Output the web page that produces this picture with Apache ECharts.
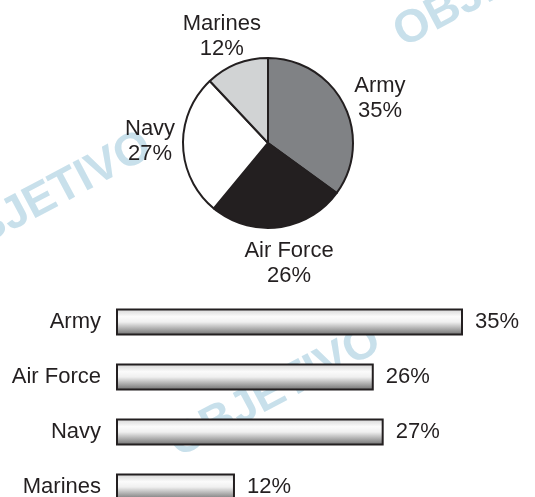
<!DOCTYPE html>
<html>
<head>
<meta charset="utf-8">
<script src="https://cdn.jsdelivr.net/npm/echarts@6/dist/echarts.min.js"></script>
<style>
html,body{margin:0;padding:0;background:#fff;}
#chart{width:535px;height:497px;}
</style>
</head>
<body>
<div id="chart"></div>
<script>
// Data
const categories = ['Army', 'Air Force', 'Navy', 'Marines'];
const shares = [35, 26, 27, 12];
const pieColors = ['#808285', '#231f20', '#ffffff', '#d1d3d4'];
const watermarkText = 'OBJETIVO';

const FONT = '"Liberation Sans", Arial, Helvetica, sans-serif';
const TEXT_COLOR = '#231f20';
const WM_COLOR = '#c8e0eb';
// small label nudges (style only) to match the original typesetting
const labelNudge = [[5, 10], [6, 1], [2, -5], [-2, 5]];

const chart = echarts.init(document.getElementById('chart'), null, {renderer: 'canvas'});

const pieData = categories.map((c, i) => ({
  name: c,
  value: shares[i],
  itemStyle: {color: pieColors[i]}
}));

const wm = (x, y) => ({
  type: 'text', x: x, y: y, rotation: 28 * Math.PI / 180, z: -10,
  style: {text: watermarkText, font: 'bold 46px ' + FONT, fill: WM_COLOR, align: 'center', verticalAlign: 'middle'}
});

const option = {
  backgroundColor: '#ffffff',
  animation: false,
  graphic: [wm(46, 198), wm(500, -18), wm(275, 392)],
  grid: {left: 116, right: 72, top: 294.5, height: 220, containLabel: false, outerBoundsMode: 'none'},
  xAxis: {
    type: 'value', min: 0, max: 35, show: false
  },
  yAxis: {
    type: 'category', data: categories, inverse: true,
    axisLine: {show: false}, axisTick: {show: false}, splitLine: {show: false},
    axisLabel: {color: TEXT_COLOR, fontFamily: FONT, fontSize: 22, margin: 15}
  },
  series: [
    {
      type: 'pie',
      center: [268, 143],
      radius: 85,
      startAngle: 90,
      clockwise: true,
      data: pieData,
      itemStyle: {borderColor: '#231f20', borderWidth: 2},
      emphasis: {disabled: true},
      label: {
        show: true, position: 'outside', distanceToLabelLine: 0,
        formatter: '{b}\n{c}%',
        color: TEXT_COLOR, fontFamily: FONT, fontSize: 22, lineHeight: 25
      },
      labelLine: {show: false, length: 35, length2: 0},
      labelLayout: function (p) {
        const n = labelNudge[p.dataIndex] || [0, 0];
        return {align: 'center', verticalAlign: 'middle', dx: n[0], dy: n[1]};
      },
      avoidLabelOverlap: false
    },
    {
      type: 'bar',
      data: shares,
      barWidth: 27,
      z: 2,
      itemStyle: {
        borderColor: '#231f20', borderWidth: 2,
        color: new echarts.graphic.LinearGradient(0, 0, 0, 1, [
          {offset: 0, color: '#d2d2d2'},
          {offset: 0.3, color: '#fbfbfb'},
          {offset: 0.5, color: '#f0f0f0'},
          {offset: 1, color: '#6a6a6a'}
        ])
      },
      label: {
        show: true, position: 'right', distance: 12,
        formatter: '{c}%',
        color: TEXT_COLOR, fontFamily: FONT, fontSize: 22
      },
      emphasis: {disabled: true}
    }
  ]
};
chart.setOption(option);
</script>
</body>
</html>
